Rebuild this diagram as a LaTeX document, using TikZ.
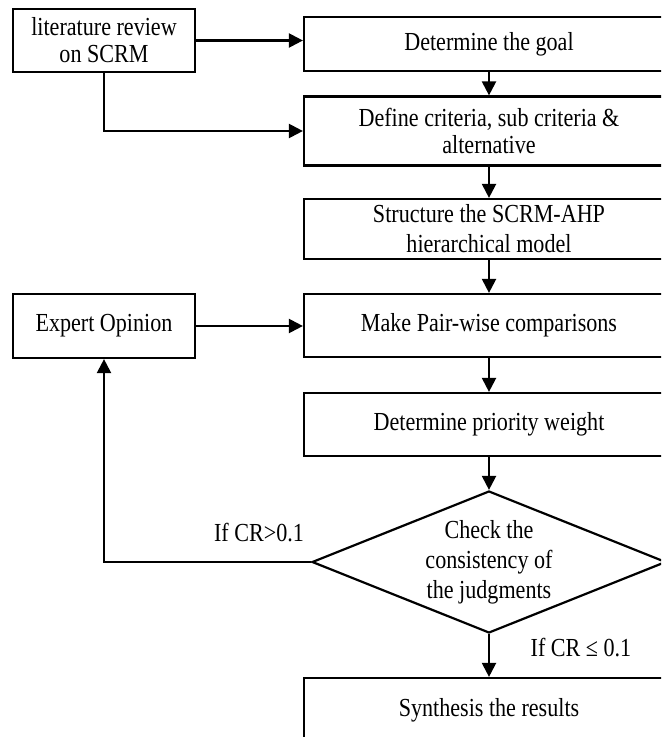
\documentclass[tikz,border=0pt]{standalone}
\usepackage{fontspec}
\setmainfont{Liberation Serif}[FakeStretch=0.85]
\usetikzlibrary{shapes.geometric,arrows.meta}
\begin{document}
\begin{tikzpicture}[x=0.5pt,y=-0.5pt,
  txt/.style={font=\fontsize{13}{13.5}\selectfont, align=center},
  wide/.style={font=\fontsize{13}{15}\selectfont},
  box/.style={txt, draw, line width=1.1pt, inner sep=0pt},
  rbox/.style={box, minimum width=185pt},
  lbox/.style={box, minimum width=91pt},
  decide/.style={txt, wide, draw, line width=1.1pt, shape=diamond, aspect=2.49, minimum width=177pt, minimum height=71pt, inner sep=0pt},
  lbl/.style={txt, inner sep=0pt},
  arr/.style={draw, line width=1.1pt, -{Triangle[length=7pt,width=7pt]}}]
\useasboundingbox (0,0) rectangle (661,737);
\clip (0,0) rectangle (661,737);
\fill[white] (0,0) rectangle (661,737);
% left boxes
\node[lbox, minimum height=31.5pt] (lit) at (104,40.5) {literature review\\on SCRM};
\node[lbox, minimum height=32pt] (expert) at (104,326) {Expert Opinion};
% main column
\node[rbox, minimum height=27pt] (goal) at (489,44) {Determine the goal};
\node[rbox, minimum height=34.5pt] (define) at (489,131) {Define criteria, sub criteria \&\\alternative};
\node[rbox, wide, minimum height=30pt] (struct) at (489,229) {Structure the SCRM-AHP\\hierarchical model};
\node[rbox, minimum height=31.5pt] (make) at (489,325.5) {Make Pair-wise comparisons};
\node[rbox, minimum height=31.5pt] (prio) at (489,424.5) {Determine priority weight};
\node[decide] (dia) at (489,562) {Check the\\consistency of\\the judgments};
\node[rbox, minimum height=32pt] (synth) at (489,710) {Synthesis the results};
% labels
\node[lbl] (l1) at (259,533) {If CR>0.1};
\node[lbl] (l2) at (581,648) {If CR ≤ 0.1};
% connectors
\draw[arr] (lit.east) -- (lit.east -| goal.west);
\draw[arr] (lit.south) |- (define.west);
\draw[arr] (goal.south) -- (define.north);
\draw[arr] (define.south) -- (struct.north);
\draw[arr] (struct.south) -- (make.north);
\draw[arr] (expert.east) -- (expert.east -| make.west);
\draw[arr] (make.south) -- (prio.north);
\draw[arr] (prio.south) -- (dia.north);
\draw[arr] (dia.west) -| (expert.south);
\draw[arr] (dia.south) -- (synth.north);
\end{tikzpicture}
\end{document}
